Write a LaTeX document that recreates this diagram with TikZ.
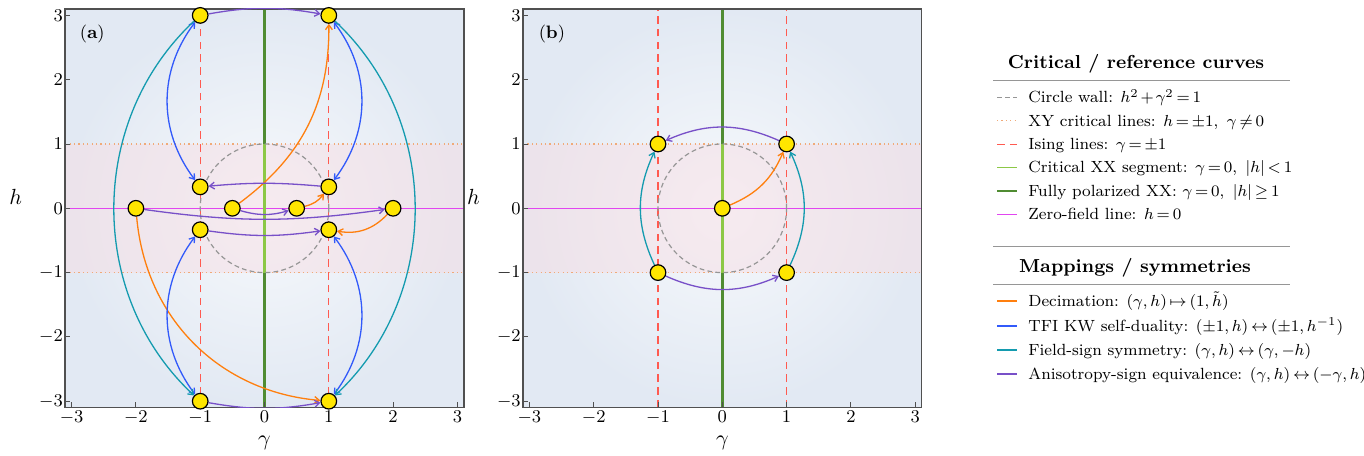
\documentclass[tikz,border=0pt]{standalone}
\usetikzlibrary{arrows.meta}
\definecolor{cOrange}{RGB}{255,127,14}
\definecolor{cBlue}{RGB}{50,90,250}
\definecolor{cTeal}{RGB}{20,155,175}
\definecolor{cPurple}{RGB}{120,80,200}
\definecolor{cZero}{RGB}{225,70,240}
\definecolor{cXXc}{RGB}{140,200,70}
\definecolor{cXXp}{RGB}{80,140,50}
\definecolor{cIsing}{RGB}{255,90,80}
\definecolor{cXY}{RGB}{240,170,120}
\definecolor{cWall}{RGB}{150,150,150}
\definecolor{cMk}{RGB}{255,230,0}
\definecolor{cSpine}{RGB}{80,80,80}
\definecolor{cRule}{RGB}{150,150,150}
\definecolor{bgIn}{RGB}{247,249,252}
\definecolor{bgOut}{RGB}{226,233,243}
\definecolor{bandPink}{RGB}{246,222,228}
\pgfdeclarelayer{bglayer}
\pgfdeclarelayer{connlayer}
\pgfsetlayers{bglayer,connlayer,main}
\newcommand\legmath{\thickmuskip=3mu\medmuskip=2mu}
\tikzset{
 xyline/.style={draw=cXY, line width=0.65pt, dash pattern=on 0.6pt off 1.6pt},
 isingline/.style={draw=cIsing, line width=0.6pt, dash pattern=on 3.8pt off 2.6pt},
 zeroline/.style={draw=cZero, line width=0.75pt},
 xxcrit/.style={draw=cXXc, line width=1.2pt},
 xxpol/.style={draw=cXXp, line width=1.2pt},
 circwall/.style={draw=cWall, line width=0.6pt, dash pattern=on 2.4pt off 1.6pt},
 tickmark/.style={draw=cSpine, line width=0.5pt},
 spine/.style={draw=cSpine, line width=0.75pt},
 ticklab/.style={font=\fontsize{9}{10}\selectfont, inner sep=0pt},
 axlab/.style={font=\fontsize{10.5}{12}\selectfont, inner sep=0pt},
 panlab/.style={font=\fontsize{9.5}{11}\selectfont, inner sep=0pt},
 mk/.style={circle, minimum size=7.8pt, inner sep=0pt, fill=cMk, draw=black, line width=0.6pt},
 conn/.style={line width=0.65pt},
 ar/.style={-{Straight Barb[length=2.4pt,width=3.4pt]}},
 dar/.style={{Straight Barb[length=2.4pt,width=3.4pt]}-{Straight Barb[length=2.4pt,width=3.4pt]}},
 legtext/.style={font=\fontsize{8.1}{9.5}\selectfont\legmath, anchor=base west, inner sep=0pt},
 legtitle/.style={font=\fontsize{9.4}{11}\selectfont\bfseries, anchor=base, inner sep=0pt},
 legrule/.style={draw=cRule, line width=0.5pt},
 leghandle/.style={line width=0.8pt},
}
\newcommand\panelbase[1]{%
  \shade[inner color=bgIn, outer color=bgOut] (-3.1,-3.1) rectangle (3.1,3.1);
  \fill[bandPink, opacity=0.5] (-3.1,-1) rectangle (3.1,1);
  \draw[xyline] (-3.1,1) -- (3.1,1);
  \draw[xyline] (-3.1,-1) -- (3.1,-1);
  \draw[isingline] (-1,-3.1) -- (-1,3.1);
  \draw[isingline] (1,-3.1) -- (1,3.1);
  \draw[zeroline] (-3.1,0) -- (3.1,0);
  \draw[xxpol] (0,-3.1) -- (0,-1);
  \draw[xxpol] (0,1) -- (0,3.1);
  \draw[xxcrit] (0,-1) -- (0,1);
  \draw[circwall] (0,0) circle[radius=1];
  \foreach \t in {-3,...,3}{
    \draw[tickmark] (\t,-3.1) -- ++(0,0.08);
    \draw[tickmark] (-3.1,\t) -- ++(0.08,0);
    \node[ticklab, anchor=base] (#1xt\t) at (\t,-3.33) {$\t$};
    \node[ticklab, anchor=east] (#1yt\t) at (-3.13,\t) {$\t$};
  }
  \draw[spine] (-3.1,-3.1) rectangle (3.1,3.1);
  \node[axlab] (#1xlab) at (0,-3.65) {$\gamma$};
  \node[axlab] (#1ylab) at (-3.87,0.17) {$h$};
}
\begin{document}
\begin{tikzpicture}[x=0.5pt,y=-0.5pt]
\useasboundingbox (0,0) rectangle (1364,455);

% ---------------- panel (a)
\begin{scope}[shift={(132.25pt,-104.15pt)}, x=32.15pt, y=32.15pt]
  \begin{pgfonlayer}{bglayer}\panelbase{a}\end{pgfonlayer}
  \node[panlab] (labA) at (-2.68,2.71) {$(\mathbf{a})$};
  \node[mk] (aTL) at (-1,3) {};
  \node[mk] (aTR) at (1,3) {};
  \node[mk] (aUL) at (-1,0.3333) {};
  \node[mk] (aUR) at (1,0.3333) {};
  \node[mk] (aF) at (-2,0) {};
  \node[mk] (aM) at (-0.5,0) {};
  \node[mk] (aP) at (0.5,0) {};
  \node[mk] (aT) at (2,0) {};
  \node[mk] (aLL) at (-1,-0.3333) {};
  \node[mk] (aLR) at (1,-0.3333) {};
  \node[mk] (aBL) at (-1,-3) {};
  \node[mk] (aBR) at (1,-3) {};
  \begin{pgfonlayer}{connlayer}
   \begin{scope}
    \clip (-3.1,-3.1) rectangle (3.1,3.1);
    % decimation
    \draw[conn,ar,cOrange] (aM) to[bend right=27] (aTR);
    \draw[conn,ar,cOrange] (aP) to[bend right=20] (aUR);
    \draw[conn,ar,cOrange] (aT) to[bend left=28] (aLR);
    \draw[conn,ar,cOrange] (aF) to[bend right=40] (aBR);
    % KW duality
    \draw[conn,dar,cBlue] (aTL) to[bend right=37] (aUL);
    \draw[conn,dar,cBlue] (aTR) to[bend left=37] (aUR);
    \draw[conn,dar,cBlue] (aLL) to[bend right=37] (aBL);
    \draw[conn,dar,cBlue] (aLR) to[bend left=37] (aBR);
    % field sign
    \draw[conn,ar,cTeal] (aTL) to[bend right=47] (aBL);
    \draw[conn,ar,cTeal] (aTR) to[bend left=47] (aBR);
    % anisotropy sign
    \draw[conn,ar,cPurple] (aTL) to[bend left=10] (aTR);
    \draw[conn,ar,cPurple] (aUR) to[bend right=5] (aUL);
    \draw[conn,ar,cPurple] (aM) to[bend right=16] (aP);
    \draw[conn,ar,cPurple] (aF) to[bend right=8] (aT);
    \draw[conn,ar,cPurple] (aLL) to[bend right=8] (aLR);
    \draw[conn,ar,cPurple] (aBL) to[bend right=10] (aBR);
   \end{scope}
  \end{pgfonlayer}
\end{scope}

% ---------------- panel (b)
\begin{scope}[shift={(361.15pt,-104.15pt)}, x=32.15pt, y=32.15pt]
  \begin{pgfonlayer}{bglayer}\panelbase{b}\end{pgfonlayer}
  \node[panlab] (labB) at (-2.65,2.71) {$(\mathbf{b})$};
  \node[mk] (bTL) at (-1,1) {};
  \node[mk] (bTR) at (1,1) {};
  \node[mk] (bO) at (0,0) {};
  \node[mk] (bBL) at (-1,-1) {};
  \node[mk] (bBR) at (1,-1) {};
  \begin{pgfonlayer}{connlayer}
    \draw[conn,ar,cOrange] (bO) to[bend right=22] (bTR);
    \draw[conn,ar,cPurple] (bTR) to[bend right=24] (bTL);
    \draw[conn,ar,cPurple] (bBL) to[bend right=24] (bBR);
    \draw[conn,ar,cTeal] (bBR) to[bend right=25] (bTR);
    \draw[conn,ar,cTeal] (bBL) to[bend left=25] (bTL);
  \end{pgfonlayer}
\end{scope}

% ---------------- legend
\node[legtitle] (lgT1) at (1136,68.3) {Critical / reference curves};
\draw[legrule] (993,80) -- (1290,80);
\draw[leghandle,circwall] (997,97.3) -- (1017,97.3);
\node[legtext] (lg1) at (1028,102.8) {Circle wall: $h^2+\gamma^2=1$};
\draw[leghandle,xyline] (997,120.7) -- (1017,120.7);
\node[legtext] (lg2) at (1028,126.2) {XY critical lines: $h=\pm1,\ \gamma\neq0$};
\draw[leghandle,isingline] (997,144.3) -- (1017,144.3);
\node[legtext] (lg3) at (1028,149.8) {Ising lines: $\gamma=\pm1$};
\draw[leghandle,draw=cXXc] (997,167.3) -- (1017,167.3);
\node[legtext] (lg4) at (1028,172.8) {Critical XX segment: $\gamma=0,\ |h|<1$};
\draw[leghandle,draw=cXXp] (997,191) -- (1017,191);
\node[legtext] (lg5) at (1028,196.5) {Fully polarized XX: $\gamma=0,\ |h|\geq1$};
\draw[leghandle,draw=cZero] (997,214.3) -- (1017,214.3);
\node[legtext] (lg6) at (1028,219.8) {Zero-field line: $h=0$};

\draw[legrule] (993,246) -- (1290,246);
\node[legtitle] (lgT2) at (1135,272.7) {Mappings / symmetries};
\draw[legrule] (993,284) -- (1290,284);
\draw[leghandle,draw=cOrange] (997,301) -- (1017,301);
\node[legtext] (lg7) at (1028,306.5) {Decimation: $(\gamma,h)\mapsto(1,\tilde{h})$};
\draw[leghandle,draw=cBlue] (997,325.7) -- (1017,325.7);
\node[legtext] (lg8) at (1028,331.2) {TFI KW self-duality: $(\pm1,h)\leftrightarrow(\pm1,h^{-1})$};
\draw[leghandle,draw=cTeal] (997,350) -- (1017,350);
\node[legtext] (lg9) at (1028,355.5) {Field-sign symmetry: $(\gamma,h)\leftrightarrow(\gamma,-h)$};
\draw[leghandle,draw=cPurple] (997,374) -- (1017,374);
\node[legtext] (lg10) at (1028,379.5) {Anisotropy-sign equivalence: $(\gamma,h)\leftrightarrow(-\gamma,h)$};
\end{tikzpicture}
\end{document}
